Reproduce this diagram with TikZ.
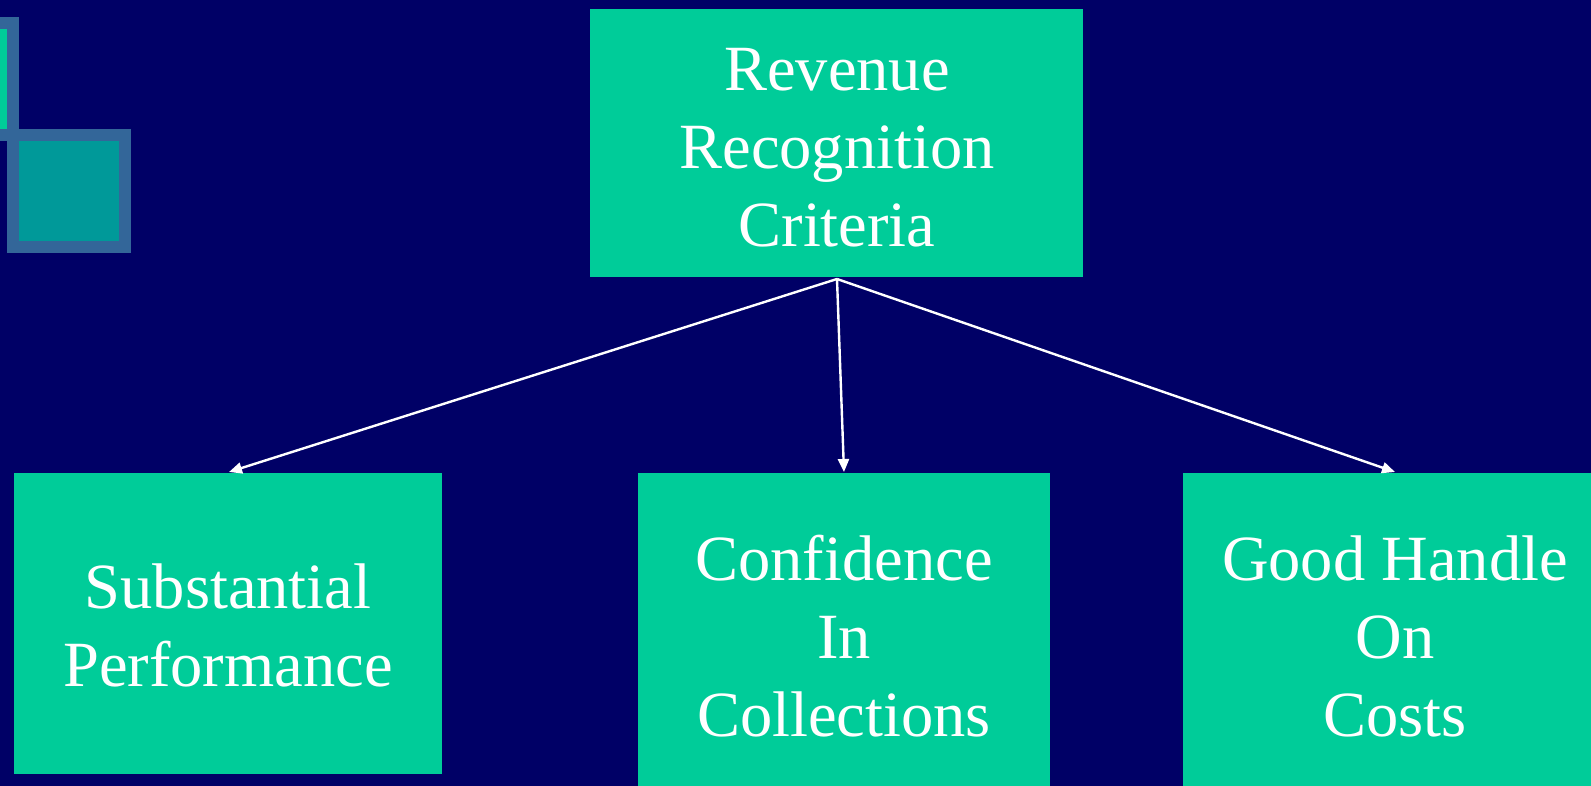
\documentclass[tikz,border=0pt]{standalone}
\usepackage{fontspec}
\setmainfont{Liberation Serif}
\usetikzlibrary{arrows.meta}
\definecolor{bgnavy}{HTML}{000066}
\definecolor{boxgreen}{HTML}{00CC99}
\definecolor{decoteal}{HTML}{009999}
\definecolor{decoframe}{HTML}{336699}
\tikzset{
  boxfill/.style={fill=boxgreen, draw=none},
  boxtext/.style={text=white, align=center, font=\fontsize{64.5}{78}\selectfont, inner sep=0pt},
  conn/.style={draw=white, line width=2.4pt, -{Triangle[length=13pt,width=11pt]}},
}
\begin{document}
\begin{tikzpicture}[x=1pt,y=-1pt]
\fill[bgnavy] (0,0) rectangle (1591,786);
\useasboundingbox (0,0) rectangle (1591,786);
% decoration squares
\fill[decoframe] (0,17) rectangle (19,141);
\fill[boxgreen] (0,29) rectangle (7,129);
\fill[decoframe] (7,129) rectangle (131,253);
\fill[decoteal] (19,141) rectangle (119,241);
% boxes
\fill[boxfill] (590,9) rectangle (1083,277);
\fill[boxfill] (14,473) rectangle (442,774);
\fill[boxfill] (638,473) rectangle (1050,800);
\fill[boxfill] (1183,473) rectangle (1600,800);
% text nodes
\node[boxtext] (top) at (837,148) {Revenue\\Recognition\\Criteria};
\node[boxtext] (left) at (228,625) {Substantial\\Performance};
\node[boxtext] (mid) at (844,636) {Confidence\\In\\Collections};
\node[boxtext] (right) at (1395,636) {Good Handle\\On\\Costs};
% anchor coordinates
\coordinate (src) at (837,279);
\coordinate (tl) at (229,472);
\coordinate (tm) at (844,472);
\coordinate (tr) at (1395,472);
\draw[conn] (src) -- (tl);
\draw[conn] (src) -- (tm);
\draw[conn] (src) -- (tr);
\end{tikzpicture}
\end{document}
